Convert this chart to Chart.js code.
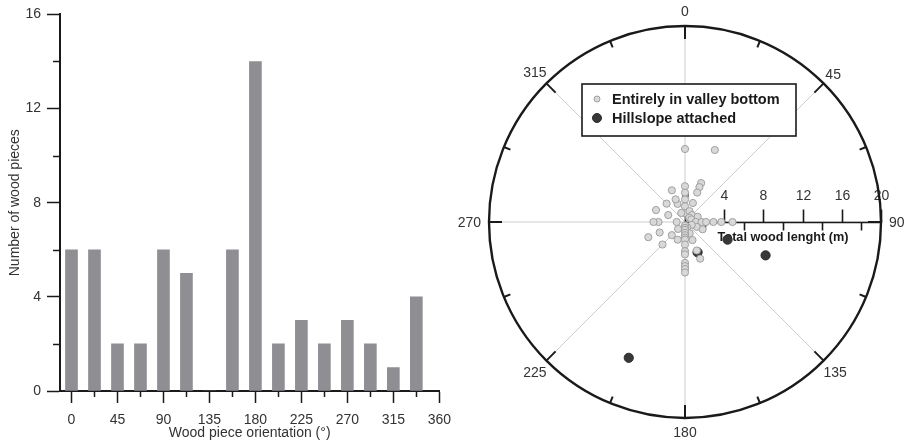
<!DOCTYPE html>
<html>
<head>
<meta charset="utf-8">
<title>Wood piece orientation</title>
<script src="https://cdn.jsdelivr.net/npm/chart.js@4/dist/chart.umd.min.js"></script>
<style>
  html, body { margin: 0; padding: 0; background: #fff; }
  #wrap { position: relative; width: 909px; height: 447px; overflow: hidden; }
  canvas { position: absolute; top: 0; }
  #hist { left: 0; }
  #rose { left: 440px; }
</style>
</head>
<body>
<div id="wrap">
  <canvas id="hist" width="460" height="447"></canvas>
  <canvas id="rose" width="469" height="447"></canvas>
</div>
<script>
// Histogram: orientation classes (bin centres, degrees) and piece counts
const orientBins  = [0, 22.5, 45, 67.5, 90, 112.5, 135, 157.5, 180, 202.5, 225, 247.5, 270, 292.5, 315, 337.5];
const pieceCounts = [6, 6, 2, 2, 6, 5, 0, 6, 14, 2, 3, 2, 3, 2, 1, 4];
const orientTicks = [0, 22.5, 45, 67.5, 90, 112.5, 135, 157.5, 180, 202.5, 225, 247.5, 270, 292.5, 315, 337.5, 360];
const countTicks  = [0, 2, 4, 6, 8, 10, 12, 14, 16];

// Rose diagram: orientation (degrees) and total wood length (m) of each piece
const valleyAngle  = [0, 0, 0, 0, 0, 0,
                      22.5, 22.5, 22.5, 22.5, 22.5, 22.5,
                      45, 45, 67.5, 67.5,
                      90, 90, 90, 90, 90, 90,
                      112.5, 112.5, 112.5,
                      157.5, 157.5, 157.5, 157.5, 157.5,
                      180, 180, 180, 180, 180, 180, 180, 180, 180, 180, 180, 180, 180, 180,
                      202.5,
                      225, 225, 225,
                      247.5, 247.5,
                      270, 270, 270,
                      292.5, 292.5,
                      315,
                      337.5, 337.5, 337.5, 337.5];
const valleyLength = [7.45, 3.65, 3.0, 2.3, 1.6, 0.9,
                      7.95, 4.3, 3.85, 3.25, 2.1, 1.2,
                      1.0, 0.6, 1.4, 0.7,
                      1.1, 1.7, 2.15, 2.9, 3.7, 4.85,
                      1.3, 1.95, 0.75,
                      0.6, 1.25, 2.0, 3.15, 4.05,
                      0.35, 0.6, 0.8, 1.1, 1.35, 1.6, 1.8, 2.3, 2.98, 3.3, 4.17, 4.5, 4.8, 5.15,
                      1.95,
                      1.0, 1.9, 3.25,
                      2.8, 4.05,
                      0.85, 2.7, 3.22,
                      1.85, 3.2,
                      2.65,
                      1.0, 2.0, 2.5, 3.5];
const hillAngle  = [112.5, 112.5, 157.5, 202.5];
const hillLength = [4.7, 8.9, 3.35, 15.0];

const seriesNames   = ['Entirely in valley bottom', 'Hillslope attached'];
const compassTicks  = [0, 22.5, 45, 67.5, 90, 112.5, 135, 157.5, 180, 202.5, 225, 247.5, 270, 292.5, 315, 337.5];
const compassLabels = [0, 45, 90, 135, 180, 225, 270, 315];
const lengthTicks   = [0, 2, 4, 6, 8, 10, 12, 14, 16, 18, 20];
const lengthMax     = 20;

const FONT = "'Liberation Sans', Arial, Helvetica, sans-serif";
const INK = '#1a1a1a';
const TEXT = '#333';
Chart.defaults.font.family = FONT;
Chart.defaults.font.size = 14;
Chart.defaults.color = TEXT;

// ---------- left panel: orientation histogram ----------
const histMinorTicks = {
  id: 'histMinorTicks',
  afterDraw(chart) {
    const { ctx, chartArea: area, scales: { x, y } } = chart;
    ctx.save();
    ctx.strokeStyle = INK;
    ctx.lineWidth = 1.5;
    countTicks.filter(v => v % 4 !== 0).forEach(v => {
      const py = Math.round(y.getPixelForValue(v)) + 0.5;
      ctx.beginPath(); ctx.moveTo(area.left - 7, py); ctx.lineTo(area.left, py); ctx.stroke();
    });
    orientTicks.filter(v => v % 45 !== 0).forEach(v => {
      const px = Math.round(x.getPixelForValue(v)) + 0.5;
      ctx.beginPath(); ctx.moveTo(px, area.bottom); ctx.lineTo(px, area.bottom + 6); ctx.stroke();
    });
    ctx.restore();
  }
};

new Chart(document.getElementById('hist'), {
  type: 'bar',
  data: {
    datasets: [{
      data: orientBins.map((b, i) => ({ x: b, y: pieceCounts[i] })),
      backgroundColor: '#8e8e93',
      borderWidth: 0,
      barThickness: 12
    }]
  },
  options: {
    responsive: false,
    animation: false,
    layout: { padding: { top: 11, right: 20, left: 0, bottom: 0 } },
    plugins: { legend: { display: false }, tooltip: { enabled: false } },
    scales: {
      x: {
        type: 'linear', min: -11.25, max: 360, offset: false,
        afterBuildTicks: s => { s.ticks = orientTicks.map(v => ({ value: v })); },
        afterFit: s => { s.height = 56; },
        ticks: { padding: 9, autoSkip: false, maxRotation: 0, color: TEXT,
                 callback: v => (v % 45 === 0 ? String(v) : '') },
        grid: { offset: false, drawOnChartArea: false, tickLength: 12, tickWidth: 1.5,
                tickColor: c => (c.tick && c.tick.value % 45 === 0 ? INK : 'rgba(0,0,0,0)') },
        border: { color: INK, width: 2 },
        title: { display: true, text: 'Wood piece orientation (°)', color: TEXT,
                 padding: { top: 0, bottom: 5 } }
      },
      y: {
        min: 0, max: 16,
        afterBuildTicks: s => { s.ticks = countTicks.map(v => ({ value: v })); },
        afterFit: s => { s.width = 60; },
        ticks: { padding: 6, color: TEXT, callback: v => (v % 4 === 0 ? String(v) : '') },
        grid: { drawOnChartArea: false, tickLength: 13, tickWidth: 1.5,
                tickColor: c => (c.tick && c.tick.value % 4 === 0 ? INK : 'rgba(0,0,0,0)') },
        border: { color: INK, width: 2 },
        title: { display: true, text: 'Number of wood pieces', color: TEXT,
                 padding: { top: 7, bottom: 0 } }
      }
    }
  },
  plugins: [histMinorTicks]
});

// ---------- right panel: rose diagram of orientation vs. length ----------
const toXY = (deg, len) => ({
  x: len * Math.sin(deg * Math.PI / 180),
  y: len * Math.cos(deg * Math.PI / 180)
});

const roseFrame = {
  id: 'roseFrame',
  beforeDatasetsDraw(chart) {
    const { ctx, scales: { x, y } } = chart;
    const cx = x.getPixelForValue(0), cy = y.getPixelForValue(0);
    ctx.save();
    // spokes every 45 degrees
    ctx.strokeStyle = '#cdcdcd';
    ctx.lineWidth = 1;
    compassLabels.forEach(a => {
      const p = toXY(a, lengthMax);
      ctx.beginPath();
      ctx.moveTo(cx, cy);
      ctx.lineTo(x.getPixelForValue(p.x), y.getPixelForValue(p.y));
      ctx.stroke();
    });
    // length axis along the 90 degree spoke
    const axY = Math.round(cy) + 0.5;
    ctx.strokeStyle = INK;
    ctx.lineWidth = 1.6;
    ctx.beginPath(); ctx.moveTo(cx, axY); ctx.lineTo(x.getPixelForValue(lengthMax), axY); ctx.stroke();
    ctx.fillStyle = TEXT;
    ctx.font = '14px ' + FONT;
    ctx.textAlign = 'center';
    ctx.textBaseline = 'middle';
    lengthTicks.forEach(v => {
      const px = Math.round(x.getPixelForValue(v)) + 0.5;
      ctx.beginPath();
      if (v % 4 === 0) {
        ctx.moveTo(px, axY); ctx.lineTo(px, axY - (v === 0 ? 9 : 13));
      } else {
        ctx.moveTo(px, axY); ctx.lineTo(px, axY + (v === 2 ? 5 : 8));
      }
      ctx.stroke();
      if (v % 4 === 0) ctx.fillText(String(v), px, cy - 26);
    });
    ctx.font = 'bold 12.7px ' + FONT;
    ctx.fillStyle = INK;
    ctx.fillText('Total wood lenght (m)', x.getPixelForValue(lengthMax / 2), cy + 15);
    ctx.restore();
  },
  afterDatasetsDraw(chart) {
    const { ctx, scales: { x, y } } = chart;
    const cx = x.getPixelForValue(0), cy = y.getPixelForValue(0);
    const R = x.getPixelForValue(lengthMax) - cx;
    ctx.save();
    // outer ring
    ctx.strokeStyle = INK;
    ctx.lineWidth = 2.4;
    ctx.beginPath(); ctx.arc(cx, cy, R, 0, Math.PI * 2); ctx.stroke();
    // compass ticks pointing inward
    ctx.lineWidth = 2;
    compassTicks.forEach(a => {
      const t = a * Math.PI / 180, s = Math.sin(t), c = Math.cos(t);
      const len = a % 45 === 0 ? 13 : 7;
      ctx.beginPath();
      ctx.moveTo(cx + R * s, cy - R * c);
      ctx.lineTo(cx + (R - len) * s, cy - (R - len) * c);
      ctx.stroke();
    });
    // compass labels
    ctx.font = '14px ' + FONT;
    ctx.fillStyle = TEXT;
    ctx.textAlign = 'center';
    ctx.textBaseline = 'middle';
    compassLabels.forEach(a => {
      const t = a * Math.PI / 180, s = Math.sin(t), c = Math.cos(t);
      const w = ctx.measureText(String(a)).width, h = 13;
      const r = R + 8 + Math.max(Math.abs(s) * w / 2, Math.abs(c) * h / 2);
      ctx.fillText(String(a), cx + r * s, cy - r * c + 1);
    });
    // legend box
    const lx = cx - 103, ly = cy - 138, lw = 214, lh = 52;
    ctx.fillStyle = '#fff';
    ctx.fillRect(lx, ly, lw, lh);
    ctx.strokeStyle = INK;
    ctx.lineWidth = 1.6;
    ctx.strokeRect(lx, ly, lw, lh);
    const ds = chart.data.datasets;
    const rows = [ly + 15, ly + 34];
    ctx.font = 'bold 14.5px ' + FONT;
    ctx.textAlign = 'left';
    rows.forEach((ry, i) => {
      ctx.beginPath();
      ctx.arc(lx + 15, ry, i === 0 ? 3 : 4.5, 0, Math.PI * 2);
      ctx.fillStyle = ds[i].pointBackgroundColor;
      ctx.fill();
      ctx.lineWidth = 1;
      ctx.strokeStyle = ds[i].pointBorderColor;
      ctx.stroke();
      ctx.fillStyle = INK;
      ctx.fillText(ds[i].label, lx + 30, ry + 1);
    });
    ctx.restore();
  }
};

new Chart(document.getElementById('rose'), {
  type: 'scatter',
  data: {
    datasets: [
      {
        label: seriesNames[0],
        data: valleyAngle.map((a, i) => toXY(a, valleyLength[i])),
        pointRadius: 3.6,
        pointBackgroundColor: '#d8d8d8',
        pointBorderColor: '#a0a0a0',
        pointBorderWidth: 1
      },
      {
        label: seriesNames[1],
        data: hillAngle.map((a, i) => toXY(a, hillLength[i])),
        pointRadius: 4.6,
        pointBackgroundColor: '#383838',
        pointBorderColor: '#2a2a2a',
        pointBorderWidth: 1
      }
    ]
  },
  options: {
    responsive: false,
    animation: false,
    layout: { padding: { left: 49, right: 28, top: 26, bottom: 29 } },
    plugins: { legend: { display: false }, tooltip: { enabled: false } },
    scales: {
      x: { type: 'linear', min: -lengthMax, max: lengthMax, display: false },
      y: { type: 'linear', min: -lengthMax, max: lengthMax, display: false }
    }
  },
  plugins: [roseFrame]
});
</script>
</body>
</html>
